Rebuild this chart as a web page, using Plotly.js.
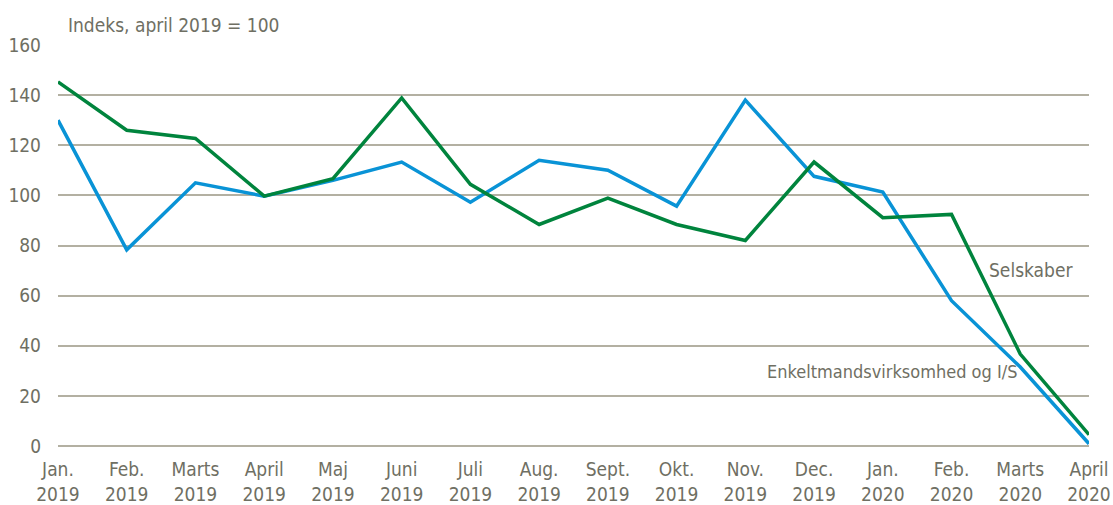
<!DOCTYPE html>
<html>
<head>
<meta charset="utf-8">
<script src="https://cdn.plot.ly/plotly-3.0.1.min.js"></script>
<style>html,body{margin:0;padding:0;background:#fff;}#chart{width:1113px;height:505px;}</style>
</head>
<body>
<div id="chart"></div>
<script>
const months = ["Jan.<br>2019","Feb.<br>2019","Marts<br>2019","April<br>2019","Maj<br>2019","Juni<br>2019","Juli<br>2019","Aug.<br>2019","Sept.<br>2019","Okt.<br>2019","Nov.<br>2019","Dec.<br>2019","Jan.<br>2020","Feb.<br>2020","Marts<br>2020","April<br>2020"];
const selskaber = [145.3,126,122.7,99.7,106.7,138.9,104.4,88.4,98.9,88.4,82,113.3,91.1,92.4,36.7,4.5];
const enkeltmands = [130,78.3,105,99.7,106,113.3,97.3,114,110,95.7,138,107.6,101.3,58,31.5,0.9];
const yTicks = [0,20,40,60,80,100,120,140,160];

const FONT = "'Liberation Sans Narrow','DejaVu Sans Condensed','Arial Narrow',sans-serif";
const TXT = "#6f6f63";
const GRID = "#b3b0a2";

const traces = [
  {x: months, y: enkeltmands, type: "scatter", mode: "lines", name: "Enkeltmandsvirksomhed og I/S",
   line: {color: "#0993d6", width: 3.5}},
  {x: months, y: selskaber, type: "scatter", mode: "lines", name: "Selskaber",
   line: {color: "#00843d", width: 3.5}}
];

const layout = {
  width: 1113, height: 505,
  margin: {l: 58, r: 24, t: 45, b: 59},
  paper_bgcolor: "#fff", plot_bgcolor: "#fff",
  showlegend: false,
  font: {family: FONT, size: 19, color: TXT},
  xaxis: {type: "category", range: [0, 15], showgrid: false, zeroline: false, showline: false,
    ticks: "", ticklabelstandoff: 10, tickfont: {family: FONT, size: 19, color: TXT}, fixedrange: true},
  yaxis: {range: [0, 160], tickvals: yTicks, ticktext: yTicks.map(String), showgrid: true, gridcolor: GRID, gridwidth: 2,
    zeroline: true, zerolinecolor: GRID, zerolinewidth: 2.5, showline: false, ticks: "",
    ticklabelstandoff: 16, tickfont: {family: FONT, size: 19, color: TXT}, fixedrange: true},
  annotations: [
    {xref: "paper", yref: "paper", x: 0.008, y: 1.05, xanchor: "left", yanchor: "middle", showarrow: false,
     text: "Indeks, april 2019 = 100", font: {family: FONT, size: 19, color: TXT}},
    {xref: "x", yref: "y", x: 13.52, y: 70.4, xanchor: "left", yanchor: "middle", showarrow: false,
     text: "Selskaber", font: {family: FONT, size: 19, color: TXT}},
    {xref: "x", yref: "y", x: 10.29, y: 29.8, xanchor: "left", yanchor: "middle", showarrow: false,
     text: "Enkeltmandsvirksomhed og I/S", font: {family: FONT, size: 18, color: TXT}}
  ]
};

Plotly.newPlot("chart", traces, layout, {staticPlot: true, displayModeBar: false});
</script>
</body>
</html>
